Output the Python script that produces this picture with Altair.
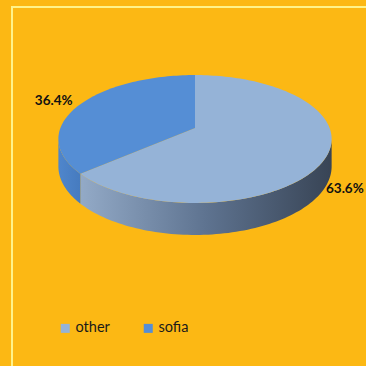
import altair as alt
import numpy as np
import pandas as pd

# ---- data ----
categories = ["other", "sofia"]
counts = [7, 4]
top_colors = ["#95B3D7", "#558ED5"]

# ---- layout parameters (pixels) ----
W = H = 366
CX, CY = 195.0, 128.0       # projected centre of the pie
S = 134.6                    # horizontal radius scale
TILT = 0.461                 # vertical squash of the tilted disc
PERSP = 0.172                # perspective strength
DEPTH = 26.5                 # thickness of the pie


def proj(theta_deg, r=1.0):
    t = np.radians(theta_deg)
    q = 1.0 + PERSP * r * np.cos(t)
    return CX + S * r * np.sin(t) / q, CY - S * TILT * r * np.cos(t) / q, q


total = float(sum(counts))
fracs = [c / total for c in counts]
starts = np.cumsum([0.0] + fracs[:-1]) * 360.0
ends = np.cumsum(fracs) * 360.0

# top faces as filled polygons
rows = []
for cat, s, e in zip(categories, starts, ends):
    n = max(int((e - s) / 1.5), 4)
    i = 0
    rows.append(dict(cat=cat, i=i, x=CX, y=CY)); i += 1
    for th in np.linspace(s, e, n):
        x, y, _ = proj(th)
        rows.append(dict(cat=cat, i=i, x=x, y=y)); i += 1
    rows.append(dict(cat=cat, i=i, x=CX, y=CY))
faces = pd.DataFrame(rows)

# visible side walls: between the two horizontal extremes of the front half
ext = np.degrees(np.arccos(-PERSP))          # right extreme
lo_vis, hi_vis = ext, 360.0 - ext
side_rows = []
for cat, s, e in zip(categories, starts, ends):
    lo, hi = max(s, lo_vis), min(e, hi_vis)
    if hi <= lo:
        continue
    for th in np.linspace(lo, hi, 90):
        x, y, q = proj(th)
        side_rows.append(dict(cat=cat, x=x, y=y, y2=y + DEPTH / q))
sides = pd.DataFrame(side_rows)

# labels, placed just outside the rim
lab_rows = []
for cat, s, e, f in zip(categories, starts, ends, fracs):
    m = (s + e) / 2
    x, y, q = proj(m)
    front = np.cos(np.radians(m)) < 0
    x += np.sign(np.sin(np.radians(m))) * (18 if front else 27)
    y += (DEPTH / q + 5) if front else -3
    lab_rows.append(dict(cat=cat, x=x, y=y, txt=f"{f*100:.1f}%"))
labels = pd.DataFrame(lab_rows)

xs = alt.Scale(domain=[0, W], nice=False, zero=False)
ys = alt.Scale(domain=[0, H], nice=False, zero=False, reverse=True)
X = lambda f: alt.X(f, type="quantitative", scale=xs, axis=None)
Y = lambda f: alt.Y(f, type="quantitative", scale=ys, axis=None)

grad_other = alt.Gradient(
    gradient="linear", x1=0, x2=1, y1=0, y2=0,
    stops=[alt.GradientStop(color="#93AAC7", offset=0),
           alt.GradientStop(color="#5E7390", offset=0.5),
           alt.GradientStop(color="#384455", offset=1)])
grad_sofia = alt.Gradient(
    gradient="linear", x1=0, x2=1, y1=0, y2=0,
    stops=[alt.GradientStop(color="#4F86CC", offset=0),
           alt.GradientStop(color="#467BBF", offset=1)])

side_other = alt.Chart(sides).transform_filter(alt.datum.cat == "other").mark_area(
    fill=grad_other).encode(x=X("x"), y=Y("y"), y2="y2")
side_sofia = alt.Chart(sides).transform_filter(alt.datum.cat == "sofia").mark_area(
    fill=grad_sofia).encode(x=X("x"), y=Y("y"), y2="y2")

top = alt.Chart(faces).mark_line(filled=True, interpolate="linear").encode(
    x=X("x"), y=Y("y"), order="i:Q", detail="cat:N",
    color=alt.Color("cat:N", scale=alt.Scale(domain=categories, range=top_colors),
                    legend=alt.Legend(title=None, orient="none", legendX=58, legendY=321,
                                      direction="horizontal", symbolType="square",
                                      symbolSize=81, symbolStrokeWidth=0,
                                      labelFont="Lato", labelFontSize=14.5,
                                      labelColor="#1a1a1a", columnPadding=31,
                                      labelOffset=3, padding=0)))

text = alt.Chart(labels).mark_text(font="Lato", fontSize=13.5, fontWeight="bold",
                                   color="#111111", align="center", baseline="middle").encode(
    x=X("x"), y=Y("y"), text="txt:N")

dummy = pd.DataFrame({"a": [0]})
border_top = alt.Chart(dummy).mark_rule(color="#FFF38A", strokeWidth=2).encode(
    x=alt.value(11), x2=alt.value(W), y=alt.value(7))
border_left = alt.Chart(dummy).mark_rule(color="#FFF38A", strokeWidth=2).encode(
    x=alt.value(12), y=alt.value(6), y2=alt.value(H))

chart = alt.layer(border_top, border_left, side_other, side_sofia, top, text).properties(
    width=W, height=H, padding=0, autosize=alt.AutoSizeParams(type="none"),
    background="#FCB814"
).configure_view(stroke=None)

chart.save("out.html", embed_options={"renderer": "svg", "actions": False})
